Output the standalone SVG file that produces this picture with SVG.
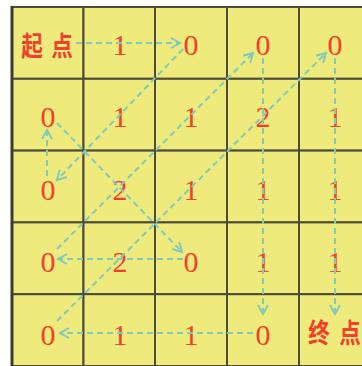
<svg xmlns="http://www.w3.org/2000/svg" width="362" height="366" viewBox="0 0 362 366">
<style>
.cell{fill:#eeea7c;stroke:#4d4b38;stroke-width:2}
.num{font-family:'Liberation Serif',serif;font-size:30px;font-weight:normal;fill:#f2402c;text-anchor:middle}
.cjk{font-family:'Noto Sans CJK SC','Noto Sans CJK JP',sans-serif;font-size:27px;font-weight:bold;fill:#f2402c;text-anchor:middle}
.conn{fill:none;stroke:#80cbbb;stroke-width:2;stroke-dasharray:6 4}
</style>
<defs>
<marker id="arr" markerUnits="userSpaceOnUse" markerWidth="14" markerHeight="14" refX="10" refY="6" orient="auto">
<path d="M1,1 L10,6 L1,11" fill="none" stroke="#80cbbb" stroke-width="2"/>
</marker>
</defs>
<rect width="362" height="366" fill="#ffffff"/>
<g id="r0c0"><rect class="cell" x="12" y="7" width="71.5" height="71.8"/><text class="cjk" transform="scale(0.8,1)" x="40 77.5" y="56">起点</text></g>
<g id="r0c1"><rect class="cell" x="83.5" y="7" width="71.5" height="71.8"/><text class="num" font-family="Liberation Serif" x="120" y="55">1</text></g>
<g id="r0c2"><rect class="cell" x="155" y="7" width="72" height="71.8"/><text class="num" font-family="Liberation Serif" x="191" y="55">0</text></g>
<g id="r0c3"><rect class="cell" x="227" y="7" width="72" height="71.8"/><text class="num" font-family="Liberation Serif" x="263" y="55">0</text></g>
<g id="r0c4"><rect class="cell" x="299" y="7" width="72" height="71.8"/><text class="num" font-family="Liberation Serif" x="335" y="55">0</text></g>
<g id="r1c0"><rect class="cell" x="12" y="78.8" width="71.5" height="71.8"/><text class="num" font-family="Liberation Serif" x="48" y="127">0</text></g>
<g id="r1c1"><rect class="cell" x="83.5" y="78.8" width="71.5" height="71.8"/><text class="num" font-family="Liberation Serif" x="120" y="127">1</text></g>
<g id="r1c2"><rect class="cell" x="155" y="78.8" width="72" height="71.8"/><text class="num" font-family="Liberation Serif" x="191" y="127">1</text></g>
<g id="r1c3"><rect class="cell" x="227" y="78.8" width="72" height="71.8"/><text class="num" font-family="Liberation Serif" x="263" y="127">2</text></g>
<g id="r1c4"><rect class="cell" x="299" y="78.8" width="72" height="71.8"/><text class="num" font-family="Liberation Serif" x="335" y="127">1</text></g>
<g id="r2c0"><rect class="cell" x="12" y="150.6" width="71.5" height="71.8"/><text class="num" font-family="Liberation Serif" x="48" y="200">0</text></g>
<g id="r2c1"><rect class="cell" x="83.5" y="150.6" width="71.5" height="71.8"/><text class="num" font-family="Liberation Serif" x="120" y="200">2</text></g>
<g id="r2c2"><rect class="cell" x="155" y="150.6" width="72" height="71.8"/><text class="num" font-family="Liberation Serif" x="191" y="200">1</text></g>
<g id="r2c3"><rect class="cell" x="227" y="150.6" width="72" height="71.8"/><text class="num" font-family="Liberation Serif" x="263" y="200">1</text></g>
<g id="r2c4"><rect class="cell" x="299" y="150.6" width="72" height="71.8"/><text class="num" font-family="Liberation Serif" x="335" y="200">1</text></g>
<g id="r3c0"><rect class="cell" x="12" y="222.4" width="71.5" height="71.8"/><text class="num" font-family="Liberation Serif" x="48" y="272">0</text></g>
<g id="r3c1"><rect class="cell" x="83.5" y="222.4" width="71.5" height="71.8"/><text class="num" font-family="Liberation Serif" x="120" y="272">2</text></g>
<g id="r3c2"><rect class="cell" x="155" y="222.4" width="72" height="71.8"/><text class="num" font-family="Liberation Serif" x="191" y="272">0</text></g>
<g id="r3c3"><rect class="cell" x="227" y="222.4" width="72" height="71.8"/><text class="num" font-family="Liberation Serif" x="263" y="272">1</text></g>
<g id="r3c4"><rect class="cell" x="299" y="222.4" width="72" height="71.8"/><text class="num" font-family="Liberation Serif" x="335" y="272">1</text></g>
<g id="r4c0"><rect class="cell" x="12" y="294.2" width="71.5" height="71.8"/><text class="num" font-family="Liberation Serif" x="48" y="345">0</text></g>
<g id="r4c1"><rect class="cell" x="83.5" y="294.2" width="71.5" height="71.8"/><text class="num" font-family="Liberation Serif" x="120" y="345">1</text></g>
<g id="r4c2"><rect class="cell" x="155" y="294.2" width="72" height="71.8"/><text class="num" font-family="Liberation Serif" x="191" y="345">1</text></g>
<g id="r4c3"><rect class="cell" x="227" y="294.2" width="72" height="71.8"/><text class="num" font-family="Liberation Serif" x="263" y="345">0</text></g>
<g id="r4c4"><rect class="cell" x="299" y="294.2" width="72" height="71.8"/><text class="cjk" transform="scale(0.8,1)" x="398.75 437.5" y="343">终点</text></g>
<line x1="12" y1="6" x2="12" y2="366" stroke="#3e3c2c" stroke-width="3"/>
<g id="connectors">
<path class="conn" d="M76,43 H180" marker-end="url(#arr)"/>
<path class="conn" d="M183,49 L57,180" marker-end="url(#arr)"/>
<path class="conn" d="M47,176 V130" marker-end="url(#arr)"/>
<path class="conn" d="M57,123 L182,252" marker-end="url(#arr)"/>
<path class="conn" d="M183,259 H58" marker-end="url(#arr)"/>
<path class="conn" d="M57,249 L253,53" marker-end="url(#arr)"/>
<path class="conn" d="M263,58 V314" marker-end="url(#arr)"/>
<path class="conn" d="M57,321 L326,53" marker-end="url(#arr)"/>
<path class="conn" d="M253,333 H60" marker-end="url(#arr)"/>
<path class="conn" d="M335,58 V314" marker-end="url(#arr)"/>
</g>
</svg>
